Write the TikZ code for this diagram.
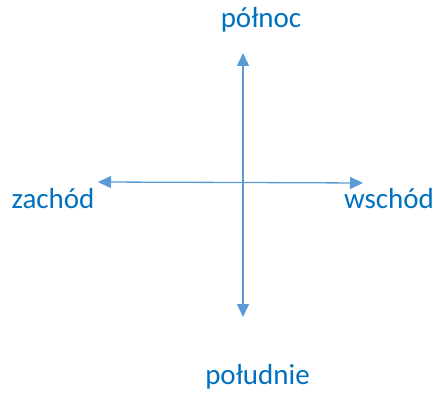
\documentclass[tikz,border=0pt]{standalone}
\usepackage{fontspec}
\setmainfont{Carlito}
\usetikzlibrary{arrows.meta}
\definecolor{txtblue}{HTML}{0070C0}
\definecolor{lineblue}{HTML}{5B9BD5}
\tikzset{
  lbl/.style={text=txtblue, font=\fontsize{29}{34}\selectfont, inner sep=0pt, anchor=base},
  axis/.style={draw=lineblue, line width=1.3pt, -{Triangle[length=13pt,width=12pt]}},
}
\begin{document}
\begin{tikzpicture}[x=1pt,y=1pt]
\useasboundingbox (0,0) rectangle (435,394);
\coordinate (c) at (243,211.5);
\coordinate (n) at (243,341);
\coordinate (s) at (243,77);
\coordinate (w) at (98,212);
\coordinate (e) at (363,211);
\draw[axis] (c) -- (n);
\draw[axis] (c) -- (s);
\draw[axis] (c) -- (w);
\draw[axis] (c) -- (e);
\node[lbl] (north) at (261,366) {północ};
\node[lbl] (south) at (257.5,10) {południe};
\node[lbl] (west) at (53,186) {zachód};
\node[lbl] (east) at (389,186) {wschód};
\end{tikzpicture}
\end{document}
